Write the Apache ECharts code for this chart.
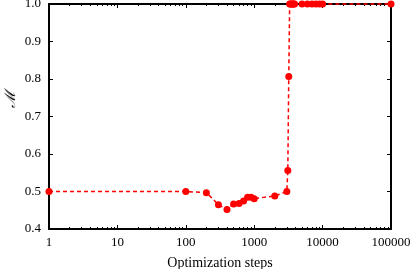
<!DOCTYPE html>
<html>
<head>
<meta charset="utf-8">
<script src="https://cdn.jsdelivr.net/npm/echarts@6/dist/echarts.min.js"></script>
<style>html,body{margin:0;padding:0;background:#fff}#c{width:415px;height:269px}</style>
</head>
<body>
<div id="c"></div>
<script>
var steps = [1, 100, 200, 300, 400, 500, 600, 700, 800, 900, 1000, 2000, 3000, 3100, 3200, 3300, 3400, 3500, 3600, 3700, 3800, 3900, 5000, 6000, 7000, 8000, 9000, 10000, 100000];
var mValues = [0.5, 0.5, 0.497, 0.465, 0.452, 0.467, 0.468, 0.475, 0.485, 0.485, 0.481, 0.488, 0.5, 0.556, 0.807, 1, 1, 1, 1, 1, 1, 1, 1, 1, 1, 1, 1, 1, 1];
var yTicks = [0.4, 0.5, 0.6, 0.7, 0.8, 0.9, 1.0];
var xTitle = 'Optimization steps';
var yTitle = '\u2133';

var font = 'Liberation Serif';
var chart = echarts.init(document.getElementById('c'), null, {renderer: 'canvas'});
var baseX = {
  type: 'log', logBase: 10, min: 1, max: 100000,
  axisLine: {show: true, onZero: false, lineStyle: {color: '#000', width: 2}},
  axisTick: {show: true, inside: true, length: 4, lineStyle: {color: '#000', width: 1}},
  minorTick: {show: true, splitNumber: 9, length: 2, lineStyle: {color: '#000', width: 1}},
  splitLine: {show: false}, minorSplitLine: {show: false}
};
var baseY = {
  type: 'value', min: 0.4, max: 1.0, interval: 0.1,
  axisLine: {show: true, onZero: false, lineStyle: {color: '#000', width: 2}},
  axisTick: {show: true, inside: true, length: 4, lineStyle: {color: '#000', width: 1}},
  splitLine: {show: false}
};
var option = {
  animation: false,
  backgroundColor: '#fff',
  grid: {left: 49, right: 24, top: 4, bottom: 40, containLabel: false, outerBoundsMode: 'none'},
  graphic: [{
    type: 'text', left: 4, top: 91, rotation: Math.PI / 2,
    style: {text: yTitle, font: 'italic 15px "DejaVu Serif"', fill: '#000'}
  }],
  xAxis: [
    Object.assign({}, baseX, {
      position: 'bottom',
      name: xTitle, nameLocation: 'middle', nameGap: 27,
      nameTextStyle: {fontFamily: font, fontSize: 14, color: '#000'},
      axisLabel: {show: true, fontFamily: font, fontSize: 13, color: '#000', margin: 7,
        formatter: function (v) { return String(Math.round(v)); }}
    }),
    Object.assign({}, baseX, {position: 'top', axisLabel: {show: false}})
  ],
  yAxis: [
    Object.assign({}, baseY, {
      position: 'left',
      axisLabel: {show: true, fontFamily: font, fontSize: 13, color: '#000', margin: 8,
        formatter: function (v) { return v.toFixed(1); }}
    }),
    Object.assign({}, baseY, {position: 'right', axisLabel: {show: false}})
  ],
  series: [{
    type: 'line',
    xAxisIndex: 0, yAxisIndex: 0,
    data: steps.map(function (s, i) { return [s, mValues[i]]; }),
    symbol: 'circle', symbolSize: 7,
    clip: false,
    lineStyle: {color: '#ff0000', width: 1.5, type: [4, 3]},
    itemStyle: {color: '#ff0000'}
  }]
};
chart.setOption(option);
</script>
</body>
</html>
